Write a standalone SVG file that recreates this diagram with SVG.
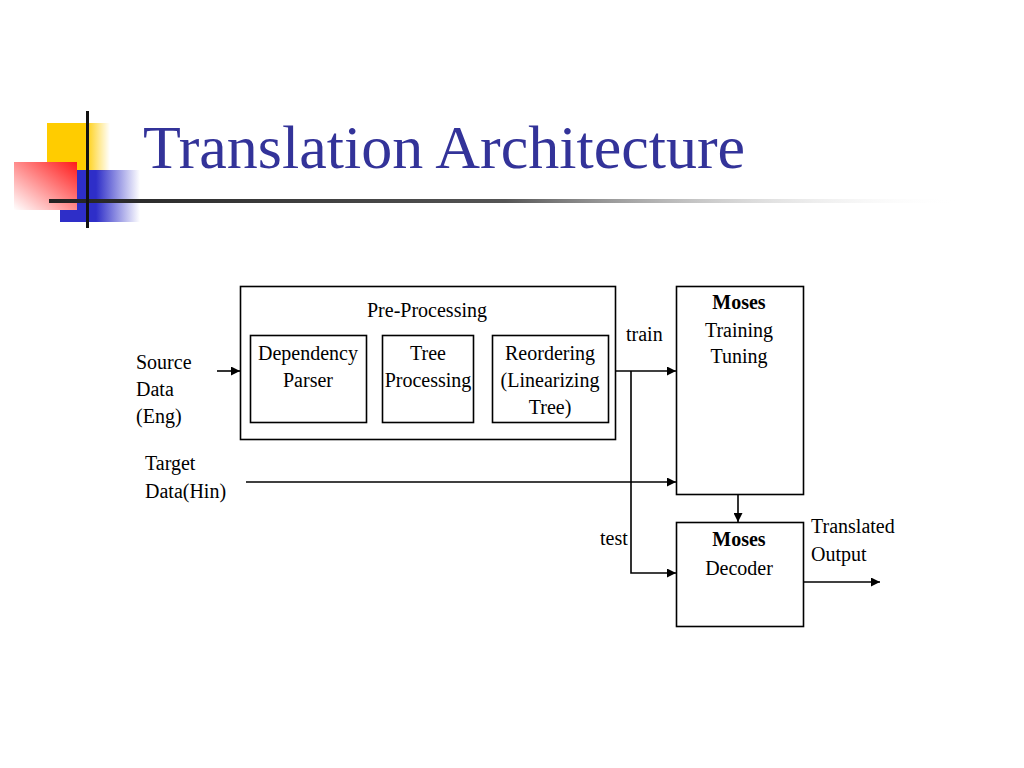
<svg xmlns="http://www.w3.org/2000/svg" width="1024" height="768" viewBox="0 0 1024 768">
<defs>
<linearGradient id="gy" x1="0" y1="0" x2="1" y2="0"><stop offset="0" stop-color="#FFCC00"/><stop offset="0.6" stop-color="#FFCC00"/><stop offset="1" stop-color="#FFCC00" stop-opacity="0"/></linearGradient>
<linearGradient id="gb" x1="0" y1="0" x2="1" y2="0"><stop offset="0" stop-color="#2E2EC8"/><stop offset="0.45" stop-color="#2E2EC8"/><stop offset="1" stop-color="#2E2EC8" stop-opacity="0"/></linearGradient>
<linearGradient id="gr" x1="1" y1="0" x2="0" y2="1"><stop offset="0" stop-color="#FF1A1A"/><stop offset="1" stop-color="#FFFFFF"/></linearGradient>
<linearGradient id="gl" x1="0" y1="0" x2="1" y2="0"><stop offset="0" stop-color="#222"/><stop offset="0.5" stop-color="#555"/><stop offset="1" stop-color="#fff" stop-opacity="0"/></linearGradient>
<marker id="ah" viewBox="0 0 10 10" refX="10" refY="5" markerWidth="11" markerHeight="9" markerUnits="userSpaceOnUse" orient="auto"><path d="M0,0 L10,5 L0,10 Z" fill="#000"/></marker>
<style>
.box{fill:#fff;stroke:#000;stroke-width:1.6}
.t{font-family:"Liberation Serif","Times New Roman",serif;font-size:20px;fill:#000}
.c{text-anchor:middle}
.b{font-weight:bold}
.ln{fill:none;stroke:#000;stroke-width:1.6}
</style>
</defs>
<rect width="1024" height="768" fill="#fff"/>
<g id="decoration">
<rect x="47" y="123" width="63" height="48" fill="url(#gy)"/>
<rect x="60" y="170" width="80" height="52" fill="url(#gb)"/>
<rect x="14" y="162" width="63" height="48" fill="url(#gr)"/>
<rect x="49" y="199" width="912" height="4" fill="url(#gl)"/>
<rect x="86" y="111" width="3" height="117" fill="#111"/>
</g>
<text x="143" y="168" font-family="Liberation Serif,'Times New Roman',serif" font-size="62" fill="#333399">Translation Architecture</text>
<g id="preprocessing">
<rect class="box" x="240.5" y="286.5" width="375" height="153"/>
<text class="t c" x="427" y="317">Pre-Processing</text>
</g>
<g id="dependency-parser">
<rect class="box" x="250.5" y="335.5" width="116" height="87"/>
<text class="t c" x="308" y="360">Dependency</text>
<text class="t c" x="308" y="387">Parser</text>
</g>
<g id="tree-processing">
<rect class="box" x="382.5" y="335.5" width="91" height="87"/>
<text class="t c" x="428" y="360">Tree</text>
<text class="t c" x="428" y="387">Processing</text>
</g>
<g id="reordering">
<rect class="box" x="492.5" y="335.5" width="116" height="87"/>
<text class="t c" x="550" y="360">Reordering</text>
<text class="t c" x="550" y="387">(Linearizing</text>
<text class="t c" x="550" y="414">Tree)</text>
</g>
<g id="moses-training">
<rect class="box" x="676.5" y="286.5" width="127" height="208"/>
<text class="t c b" x="739" y="309">Moses</text>
<text class="t c" x="739" y="337">Training</text>
<text class="t c" x="739" y="363">Tuning</text>
</g>
<g id="moses-decoder">
<rect class="box" x="676.5" y="522.5" width="127" height="104"/>
<text class="t c b" x="739" y="546">Moses</text>
<text class="t c" x="739" y="575">Decoder</text>
</g>
<g id="labels">
<text class="t" x="136" y="369">Source</text>
<text class="t" x="136" y="396">Data</text>
<text class="t" x="136" y="423">(Eng)</text>
<text class="t" x="145" y="470">Target</text>
<text class="t" x="145" y="498">Data(Hin)</text>
<text class="t" x="626" y="341">train</text>
<text class="t" x="600" y="545">test</text>
<text class="t" x="811" y="533">Translated</text>
<text class="t" x="811" y="561">Output</text>
</g>
<g id="connectors">
<line class="ln" x1="217" y1="371" x2="240" y2="371" marker-end="url(#ah)"/>
<line class="ln" x1="615" y1="371" x2="676" y2="371" marker-end="url(#ah)"/>
<polyline class="ln" points="631,371 631,573 676,573" marker-end="url(#ah)"/>
<line class="ln" x1="246" y1="482" x2="676" y2="482" marker-end="url(#ah)"/>
<line class="ln" x1="738" y1="494" x2="738" y2="522" marker-end="url(#ah)"/>
<line class="ln" x1="803" y1="582" x2="880" y2="582" marker-end="url(#ah)"/>
</g>
</svg>
